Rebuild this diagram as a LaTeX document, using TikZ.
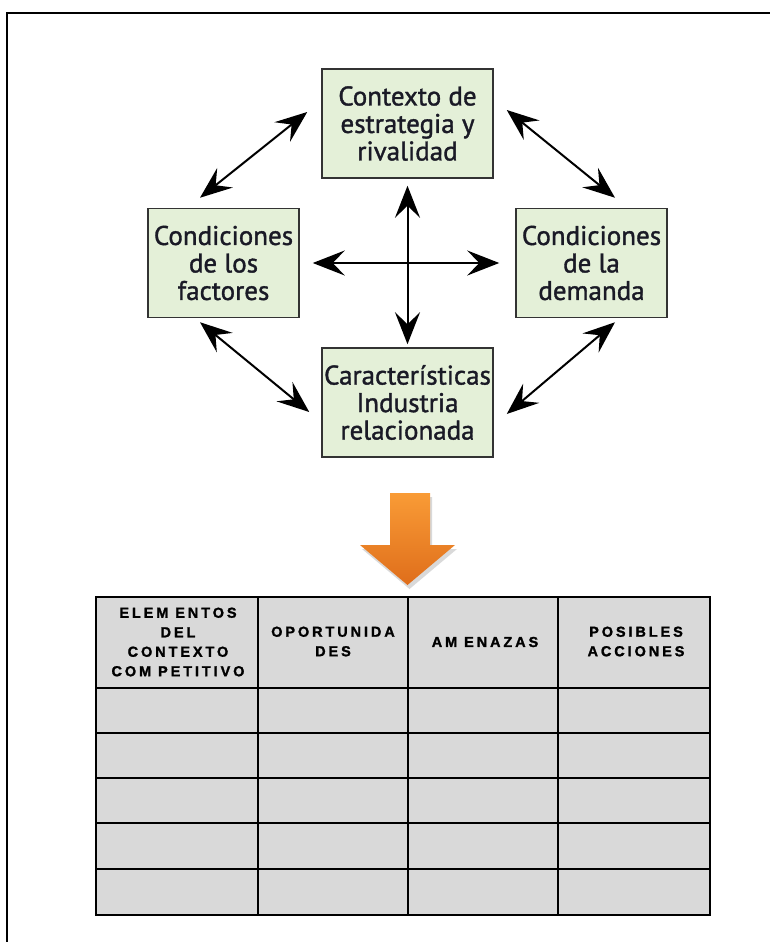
\documentclass[tikz,border=0pt]{standalone}
\usepackage{fontspec}
\setmainfont{PT Sans}[FakeBold=1.3]
\newfontfamily\headfont[LetterSpace=20, FakeBold=1.5]{Liberation Sans Bold}
\usetikzlibrary{arrows.meta}

\definecolor{boxgreen}{HTML}{E4F0D8}
\definecolor{boxline}{HTML}{333333}
\definecolor{boxtext}{HTML}{1A1A26}
\definecolor{cellgray}{HTML}{D9D9D9}
\definecolor{arrowtop}{HTML}{F99B36}
\definecolor{arrowbot}{HTML}{DF6E1B}

\tikzset{
  factor/.style={draw=boxline, line width=1.5pt, fill=boxgreen,
    minimum width=171pt, minimum height=109pt, inner sep=0pt,
    align=center, text=boxtext, font=\fontsize{27}{27.5}\selectfont},
  link/.style={>={Stealth[length=32pt,width=25pt,inset=12pt]}, <->, line width=2pt},
  head/.style={align=center, font=\headfont\fontsize{14.5}{19.5}\selectfont},
}

\begin{document}
\begin{tikzpicture}[x=1pt, y=-1pt]
  \useasboundingbox (0,0) rectangle (770,942);
  \draw[line width=2pt] (7,942) -- (7,13) -- (770,13);

  \draw
    (407.5,123.5) node[factor] (rival) {Contexto de\\estrategia y\\rivalidad}
    (223.5,263) node[factor, minimum width=151pt] (factores) {Condiciones\\de los\\factores}
    (591.5,263) node[factor, minimum width=151pt] (demanda) {Condiciones\\de la\\demanda}
    (407.5,402.5) node[factor] (industria) {Características\\Industria\\relacionada};
  \begin{scope}[link]
    \draw ([shift={(-14pt,11.5pt)}]rival.west) to ([shift={(-23.5pt,10pt)}]factores.north);
    \draw ([shift={(13pt,13.5pt)}]rival.east) to ([shift={(23.5pt,10pt)}]demanda.north);
    \draw ([shift={(-23.5pt,-4pt)}]factores.south) to ([shift={(-12pt,-9.5pt)}]industria.west);
    \draw ([shift={(23.5pt,-4pt)}]demanda.south) to ([shift={(13pt,-11.5pt)}]industria.east);
    \draw[shorten <=7pt, shorten >=3pt] (rival) to (industria);
    \draw[shorten <=13pt, shorten >=16pt] (factores) to (demanda);
  \end{scope}

  \fill[black, opacity=0.15] (392,497) -- (432,497) -- (432,549) -- (457,549) -- (409.5,589) -- (362,549) -- (392,549) -- cycle;
  \shade[top color=arrowtop, bottom color=arrowbot]
    (390,493) -- (430,493) -- (430,545) -- (455,545) -- (407.5,585) -- (360,545) -- (390,545) -- cycle;

  \fill[cellgray] (96,597) rectangle (710,915);
  \draw[line width=1.2pt] (258,597) -- (258,915);
  \draw[line width=1.2pt] (408,597) -- (408,915);
  \draw[line width=1.2pt] (558,597) -- (558,915);
  \draw[line width=1.2pt] (96,688) -- (710,688);
  \draw[line width=1.2pt] (96,733) -- (710,733);
  \draw[line width=1.2pt] (96,778) -- (710,778);
  \draw[line width=1.2pt] (96,823) -- (710,823);
  \draw[line width=1.2pt] (96,869) -- (710,869);
  \draw[line width=2.5pt] (96,597) rectangle (710,915);

  \node[head] (elementos) at (178,642) {ELEM ENTOS\\DEL\\CONTEXTO\\COM PETITIVO};
  \node[head] (oportunidades) at (333,641.5) {OPORTUNIDA\\DES};
  \node[head] (amenazas) at (485,642) {AM ENAZAS};
  \node[head] (acciones) at (636,641.5) {POSIBLES\\ACCIONES};
\end{tikzpicture}
\end{document}
